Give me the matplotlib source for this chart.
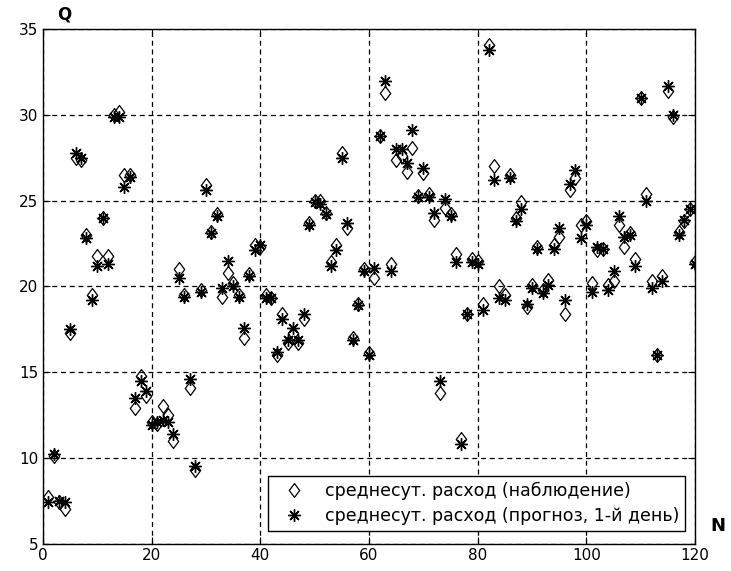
import numpy as np
import matplotlib.pyplot as plt
from matplotlib.path import Path

# day numbers and daily mean discharge
n = np.arange(1, 121)
observed = [
    7.7, 10.1, 7.4, 7.0, 17.3, 27.5, 27.4, 23.0, 19.5, 21.8,
    24.0, 21.8, 30.0, 30.2, 26.5, 26.5, 12.9, 14.8, 13.6, 12.1,
    12.0, 13.0, 12.5, 11.0, 21.0, 19.5, 14.1, 9.3, 19.8, 25.9,
    23.2, 24.2, 19.4, 20.8, 20.2, 19.5, 17.0, 20.7, 22.4, 22.3,
    19.5, 19.3, 16.0, 18.4, 16.7, 17.3, 16.7, 18.1, 23.7, 25.0,
    25.0, 24.3, 21.4, 22.4, 27.8, 23.4, 17.0, 19.0, 21.0, 16.1,
    20.5, 28.8, 31.3, 21.3, 27.4, 27.6, 26.7, 28.1, 25.3, 26.6,
    25.4, 23.9, 13.8, 24.6, 24.2, 21.9, 11.1, 18.4, 21.6, 21.5,
    19.0, 34.1, 27.0, 20.0, 19.5, 26.5, 24.0, 24.9, 18.8, 20.1,
    22.3, 19.8, 20.4, 22.4, 22.9, 18.4, 25.6, 26.3, 23.6, 23.8,
    20.2, 22.1, 22.2, 20.1, 20.3, 23.6, 22.3, 23.1, 21.6, 31.0,
    25.4, 20.3, 16.0, 20.6, 31.4, 29.9, 23.2, 23.8, 24.5, 21.4,
]
forecast = [
    7.4, 10.2, 7.5, 7.4, 17.5, 27.8, 27.5, 22.8, 19.2, 21.2,
    24.0, 21.3, 29.9, 29.9, 25.8, 26.4, 13.5, 14.5, 13.9, 11.9,
    12.1, 12.2, 12.1, 11.4, 20.5, 19.4, 14.6, 9.5, 19.7, 25.6,
    23.1, 24.1, 19.9, 21.5, 20.0, 19.4, 17.6, 20.6, 22.1, 22.4,
    19.3, 19.3, 16.2, 18.1, 16.9, 17.6, 16.9, 18.4, 23.6, 24.9,
    24.8, 24.2, 21.2, 22.1, 27.5, 23.7, 16.9, 18.9, 20.9, 16.0,
    21.1, 28.8, 32.0, 20.9, 28.0, 28.0, 27.2, 29.1, 25.2, 26.9,
    25.2, 24.3, 14.5, 25.1, 24.1, 21.4, 10.8, 18.4, 21.4, 21.3,
    18.6, 33.8, 26.2, 19.3, 19.2, 26.3, 23.8, 24.5, 19.0, 19.9,
    22.2, 19.6, 20.1, 22.2, 23.4, 19.2, 26.0, 26.8, 22.8, 23.6,
    19.7, 22.3, 22.2, 19.8, 20.9, 24.1, 22.9, 23.0, 21.2, 31.0,
    25.0, 19.9, 16.0, 20.3, 31.7, 30.0, 23.0, 23.9, 24.5, 21.3,
]
labels = ['среднесут. расход (наблюдение)',
          'среднесут. расход (прогноз, 1-й день)']

plt.rcParams['font.family'] = ['DejaVu Sans']

# matlab-like diamond, a bit taller than wide
diamond = Path([(0, 1), (0.75, 0), (0, -1), (-0.75, 0), (0, 1)],
               [Path.MOVETO, Path.LINETO, Path.LINETO, Path.LINETO, Path.CLOSEPOLY])

fig = plt.figure(figsize=(7.31, 5.71), dpi=100)
ax = fig.add_axes([0.0588, 0.048, 0.892, 0.9007])

ax.plot(n, observed, linestyle='none', marker=diamond, markersize=10,
        markerfacecolor='none', markeredgecolor='black', markeredgewidth=0.9,
        label=labels[0])
ax.plot(n, forecast, linestyle='none', marker=(8, 2, 0), markersize=9,
        color='black', markeredgewidth=1.0, label=labels[1])

ax.set_xlim(0, 120)
ax.set_ylim(5, 35)
ax.set_xticks(np.arange(0, 121, 20))
ax.set_yticks(np.arange(5, 36, 5))
ax.grid(True, color='black', linestyle=(0, (4, 3)), linewidth=0.9)
ax.tick_params(direction='in', top=True, right=True, length=5,
               labelsize=11, colors='black')
for s in ax.spines.values():
    s.set_linewidth(1.0)
    s.set_color('black')

fig.text(0.078, 0.975, 'Q', fontsize=12, fontweight='bold', ha='left', va='center')
fig.text(0.982, 0.078, 'N', fontsize=13, fontweight='bold', ha='center', va='center')

leg = ax.legend(loc='lower right', bbox_to_anchor=(0.985, 0.024), fontsize=12.5,
                frameon=True, fancybox=False, edgecolor='black', framealpha=1,
                borderpad=0.35, labelspacing=0.4, handletextpad=0.7,
                handlelength=2.2, borderaxespad=0)
leg.get_frame().set_linewidth(1.0)

fig.savefig('out.png', dpi=100)
